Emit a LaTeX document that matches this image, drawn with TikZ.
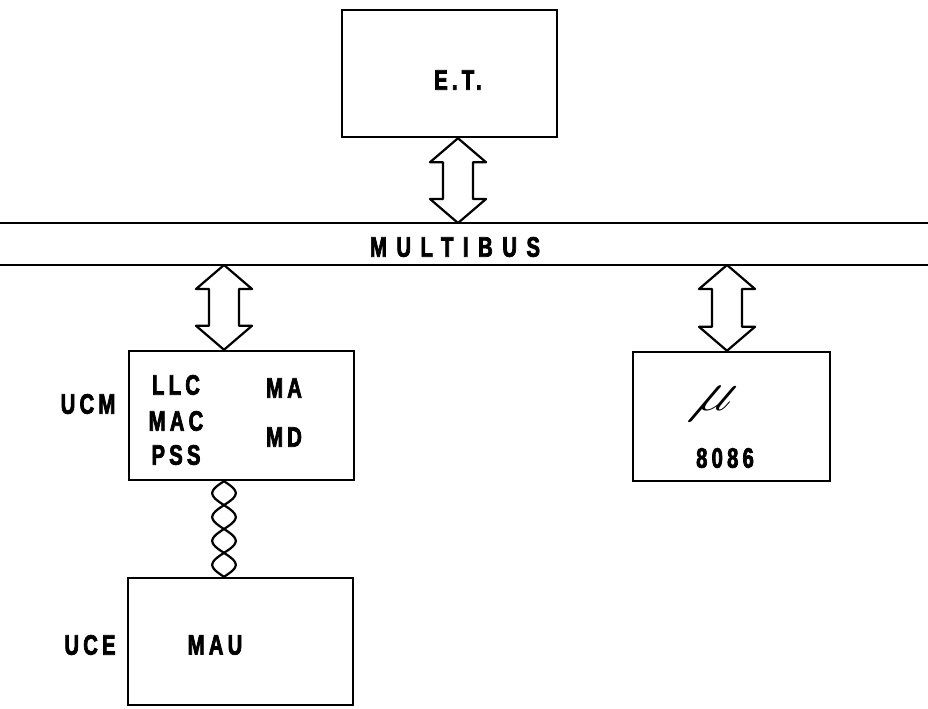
\documentclass[tikz,border=0pt]{standalone}
\usepackage{fontspec}
\usetikzlibrary{calc}
\newfontfamily\lblfont[FakeStretch=0.72,LetterSpace=15,FakeBold=2.5]{Liberation Sans Bold}
\tikzset{
  box/.style={draw,line width=2.1pt,inner sep=0pt},
  lbl/.style={font=\lblfont\fontsize{24}{24}\selectfont,inner sep=0pt},
  busline/.style={line width=2.5pt},
  dblarr/.style={line width=1.9pt,fill=white,line join=round},
  wire/.style={line width=1.9pt}
}
% double arrow between two points on one vertical
\newcommand{\busarrow}[2]{%
  \draw[dblarr] (#1) -- ++(-28,24) -- ++(13,0) -- ($(#2)+(-15,-24)$)
    -- ++(-13,0) -- (#2) -- ++(28,-24) -- ++(-13,0)
    -- ($(#1)+(15,24)$) -- ++(13,0) -- cycle;}
\begin{document}
\begin{tikzpicture}[x=0.03cm,y=-0.03cm]
  \useasboundingbox (0,0) rectangle (928,709);
  % bus
  \coordinate (bustop) at (0,223);
  \coordinate (busbot) at (0,265);
  \draw[busline] (bustop) -- (bustop -| 928,0);
  \draw[busline] (busbot) -- (busbot -| 928,0);
  \node[lbl] (multibus) at (455,247) {\addfontfeature{LetterSpace=34}MULTIBUS};

  % boxes
  \node[box,minimum width=6.45cm,minimum height=3.81cm] (et) at (449.5,73.5) {};
  \node[box,minimum width=6.75cm,minimum height=3.87cm] (ucm) at (241.5,415.5) {};
  \node[box,minimum width=5.91cm,minimum height=3.87cm] (cpu) at (731.5,416.5) {};
  \node[box,minimum width=6.75cm,minimum height=3.81cm] (mau) at (240.5,641.5) {};

  % texts
  \node[lbl] (etlbl) at (458,80) {E.T.};
  \node[lbl] (ucmlbl) at (88,404) {UCM};
  \node[lbl] (llc) at (176,385) {LLC};
  \node[lbl] (mac) at (176,421) {MAC};
  \node[lbl] (pss) at (176,455) {PSS};
  \node[lbl] (ma) at (284,388) {MA};
  \node[lbl] (md) at (284,437) {MD};
  \node[inner sep=0pt,xslant=0.6] (mu) at (714,404) {\scalebox{4.8}{$\mu$}};
  \node[lbl] (num) at (725,458) {8086};
  \node[lbl] (ucelbl) at (90,645) {UCE};
  \node[lbl] (maulbl) at (215,645) {MAU};

  % links to the bus
  \coordinate (lnk) at (224,0);
  \coordinate (cpulnk) at (727,0);
  \busarrow{et.south -| 458,0}{bustop -| 458,0}
  \busarrow{busbot -| lnk}{ucm.north -| lnk}
  \busarrow{busbot -| cpulnk}{cpu.north -| cpulnk}

  % twisted pair
  \coordinate (twtop) at (ucm.south -| lnk);
  \coordinate (twbot) at (mau.north -| lnk);
  \foreach \s in {1,-1}
    \draw[wire] let \p1=(twtop), \p2=(twbot) in
      plot[variable=\t,domain=0:1,samples=61,smooth]
      ({\x1+\s*10pt*sin(720*\t)},{\y1+(\y2-\y1)*\t});
\end{tikzpicture}
\end{document}
